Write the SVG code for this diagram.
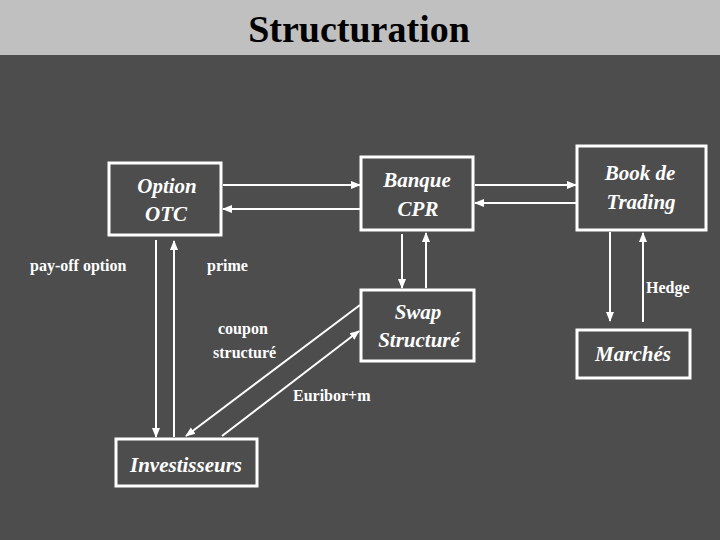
<svg xmlns="http://www.w3.org/2000/svg" width="720" height="540" viewBox="0 0 720 540">
<style>
.box{fill:none;stroke:#fff;stroke-width:3}
.n{font-family:"Liberation Serif",serif;font-style:italic;font-weight:bold;font-size:21px;fill:#fff;text-anchor:middle}
.l{font-family:"Liberation Serif",serif;font-weight:bold;font-size:16px;fill:#fff}
.c line{stroke:#fff;stroke-width:2;marker-end:url(#a)}
</style>
<defs><marker id="a" viewBox="0 0 10 10" refX="9" refY="5" markerWidth="5" markerHeight="5" orient="auto" markerUnits="strokeWidth"><path d="M0,1 L10,5 L0,9 z" fill="#fff"/></marker></defs>
<rect width="720" height="540" fill="#4d4d4d"/>
<rect width="720" height="55" fill="#c0c0c0"/>
<text x="359" y="42" font-family="Liberation Serif,serif" font-weight="bold" font-size="38" text-anchor="middle" fill="#000">Structuration</text>
<g id="option"><rect class="box" x="109" y="163" width="112" height="72"/><text class="n" x="167" y="193">Option</text><text class="n" x="166" y="221">OTC</text></g>
<g id="banque"><rect class="box" x="361" y="157" width="112" height="73"/><text class="n" x="417" y="187">Banque</text><text class="n" x="418" y="216">CPR</text></g>
<g id="book"><rect class="box" x="577" y="146" width="129" height="84"/><text class="n" x="640" y="180">Book de</text><text class="n" x="641" y="209">Trading</text></g>
<g id="swap"><rect class="box" x="361" y="290" width="113" height="71"/><text class="n" x="418" y="319">Swap</text><text class="n" x="419" y="347">Structuré</text></g>
<g id="marches"><rect class="box" x="577" y="330" width="113" height="48"/><text class="n" x="633" y="361">Marchés</text></g>
<g id="invest"><rect class="box" x="116" y="439" width="141" height="47"/><text class="n" x="186" y="472">Investisseurs</text></g>
<g class="c">
<line x1="223" y1="185" x2="360" y2="185"/>
<line x1="360" y1="209" x2="223" y2="209"/>
<line x1="475" y1="185" x2="576" y2="185"/>
<line x1="576" y1="203" x2="475" y2="203"/>
<line x1="156" y1="240" x2="156" y2="437"/>
<line x1="174" y1="437" x2="174" y2="241"/>
<line x1="402" y1="234" x2="402" y2="288"/>
<line x1="426" y1="288" x2="426" y2="233"/>
<line x1="610" y1="232" x2="610" y2="321"/>
<line x1="643" y1="322" x2="643" y2="233"/>
<line x1="360" y1="305" x2="186" y2="436"/>
<line x1="222" y1="436" x2="359" y2="331"/>
</g>
<g>
<text class="l" x="30" y="271">pay-off option</text>
<text class="l" x="207" y="271">prime</text>
<text class="l" x="646" y="293">Hedge</text>
<text class="l" x="218" y="334">coupon</text>
<text class="l" x="213" y="358">structuré</text>
<text class="l" x="293" y="401">Euribor+m</text>
</g>
</svg>
